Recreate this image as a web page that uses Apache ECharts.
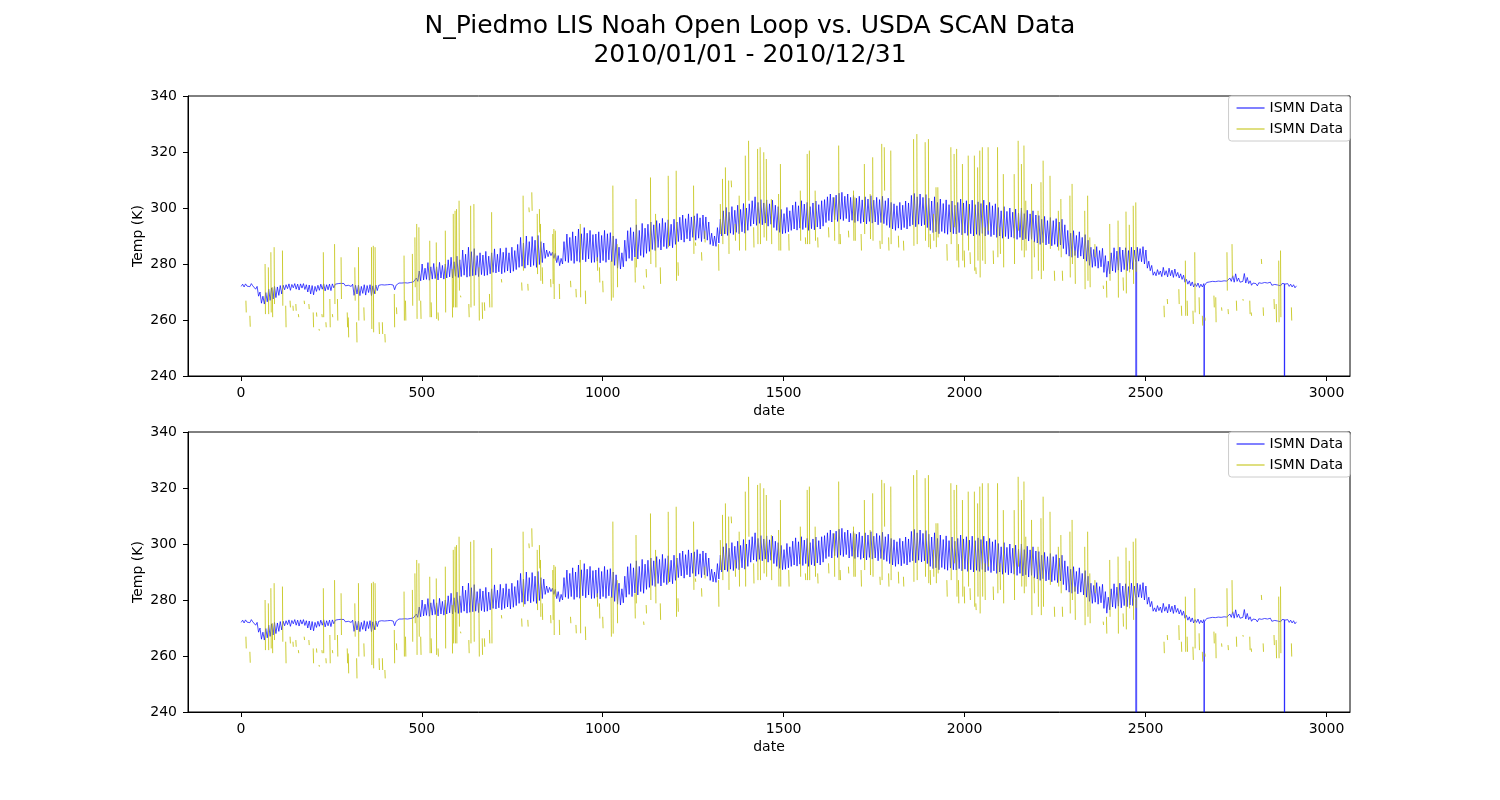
<!DOCTYPE html>
<html><head><meta charset="utf-8">
<script src="https://cdn.jsdelivr.net/npm/echarts@6/dist/echarts.min.js"></script>
<style>html,body{margin:0;padding:0;background:#fff}#c{width:1500px;height:800px}</style>
</head><body><div id="c"></div>
<script>
const titleText = 'N_Piedmo LIS Noah Open Loop vs. USDA SCAN Data\n2010/01/01 - 2010/12/31';
const seriesNames = ['ISMN Data', 'ISMN Data '];
const xTicks = [0, 500, 1000, 1500, 2000, 2500, 3000];
const yTicksMin = 240, yTicksMax = 340, yTickStep = 20;

// Blue series: daily low / high (8 samples per day, index = 8*day + offset)
const blueLo = [
272.0,271.8,272.1,271.9,272.2,271.0,268.5,266.0,265.7,266.5,
267.0,267.5,268.0,268.8,269.3,270.8,271.2,270.6,271.5,271.0,
270.7,271.4,270.9,270.0,269.3,269.0,270.2,270.6,271.0,270.4,
270.8,270.5,271.5,272.3,272.4,272.5,272.2,272.4,272.0,268.8,
269.3,268.7,269.5,268.9,269.8,268.7,269.4,270.5,272.0,272.1,
271.9,272.2,272.0,270.8,272.8,272.9,273.0,273.0,273.1,273.2,
273.5,273.8,274.0,274.3,274.5,274.2,274.6,274.8,274.3,275.0,
274.6,275.0,275.4,275.0,275.6,275.2,275.5,276.0,275.3,275.6,
275.8,276.0,275.5,276.2,275.8,276.0,276.5,277.0,276.8,277.2,
276.5,277.0,277.5,276.8,277.4,278.0,278.8,279.2,278.5,279.6,
279.0,279.5,278.8,279.8,280.5,282.0,282.6,283.0,282.0,280.5,
279.4,280.0,281.0,280.5,281.2,280.2,281.0,280.6,281.5,280.8,
281.8,280.5,280.6,281.0,280.4,281.2,280.6,281.5,280.8,279.5,
278.5,278.2,279.0,281.0,282.0,281.2,282.5,281.8,283.0,282.4,
283.8,284.5,285.2,284.8,285.9,285.0,286.2,285.5,286.5,285.8,
287.0,288.0,288.6,287.8,289.0,288.2,289.5,288.5,289.2,288.0,
289.0,288.5,287.0,286.5,286.3,287.5,290.0,290.7,290.2,291.0,
290.5,291.3,290.8,291.5,291.0,292.0,293.5,294.3,293.8,294.5,
294.0,294.6,293.5,294.2,293.0,292.0,291.3,290.8,291.0,291.5,
292.0,292.5,292.1,292.8,292.3,293.0,292.0,292.6,292.2,293.2,
292.5,293.5,294.8,295.5,295.0,295.8,295.2,296.0,295.5,296.2,
295.0,295.6,294.8,295.3,294.5,295.0,294.3,295.2,294.6,295.0,
294.0,294.8,294.4,293.8,293.0,292.5,292.0,292.8,292.2,293.0,
292.5,293.5,294.0,293.3,294.2,293.6,294.0,293.0,292.0,291.2,
291.5,290.8,291.6,291.0,290.6,291.4,290.8,290.7,291.2,290.4,
291.0,290.2,290.8,290.0,290.6,290.2,290.9,290.0,290.5,289.8,
290.4,289.5,290.0,289.2,289.8,289.0,289.6,289.2,288.8,289.5,
288.6,289.0,288.2,288.8,287.8,287.5,287.0,287.6,286.8,287.2,
286.5,287.0,286.2,286.8,285.5,283.5,282.8,282.4,283.0,282.2,
282.8,281.8,281.0,279.5,278.8,279.2,278.5,279.0,277.0,275.3,
276.5,277.5,277.0,277.8,277.2,278.0,277.6,278.2,278.0,280.5,
281.0,280.8,280.0,278.5,277.6,276.0,275.8,276.2,275.5,276.0,
275.4,275.8,275.2,275.6,275.0,274.5,273.5,272.8,272.2,271.8,
272.0,271.6,271.8,272.5,273.0,273.2,273.3,273.4,273.2,273.5,
273.3,273.6,273.8,273.5,273.8,273.5,273.8,273.2,273.0,272.4,
272.6,272.2,272.7,272.5,272.8,272.6,272.4,272.7,272.5,272.2,
272.6,272.4,272.0,271.8,271.5
];
const blueHi = [
272.8,272.9,272.7,273.0,272.6,272.0,270.0,268.5,269.8,271.0,
271.5,272.0,271.8,272.3,272.4,272.6,272.9,272.7,273.0,272.8,
272.9,273.0,272.6,272.5,272.3,272.0,272.4,272.8,272.9,272.6,
272.8,272.9,272.8,273.0,273.1,273.0,272.9,273.0,272.8,272.4,
272.5,272.0,272.6,272.3,272.6,272.2,272.5,272.4,272.6,272.5,
272.6,272.7,272.5,272.4,273.2,273.2,273.3,273.2,273.4,273.6,
275.0,277.5,280.0,278.5,280.5,279.0,280.2,279.0,280.6,279.5,
280.0,281.5,282.4,280.8,282.8,281.5,285.0,283.5,286.0,284.4,
285.5,283.0,284.0,283.2,284.5,282.8,284.0,285.4,283.5,285.6,
284.2,285.8,284.0,286.0,284.8,287.0,289.5,287.5,290.0,288.0,
289.8,288.5,290.2,288.0,287.5,285.0,284.5,284.2,283.8,283.0,
282.0,288.0,290.7,289.5,291.5,290.0,292.5,290.8,293.0,291.0,
292.0,290.5,290.7,291.5,290.2,292.0,290.8,291.2,290.0,289.0,
286.0,284.0,288.5,291.9,293.0,291.5,294.0,292.0,294.5,292.8,
294.2,295.0,294.0,295.5,294.5,296.3,294.8,295.8,294.2,296.0,
295.0,296.7,297.5,296.2,297.9,296.8,297.2,298.0,296.5,297.5,
296.8,295.0,291.0,290.0,293.0,296.0,299.0,300.2,298.5,300.5,
299.2,301.0,299.5,301.6,300.0,301.5,302.6,304.0,302.0,303.0,
301.8,302.9,301.5,302.8,301.0,300.5,299.5,298.0,300.2,299.0,
301.0,302.2,300.8,302.6,301.4,302.0,300.5,301.8,302.5,301.2,
302.6,303.0,304.0,305.0,303.8,304.6,305.3,305.6,304.2,305.0,
303.8,304.5,303.5,304.2,302.9,304.0,303.2,304.4,302.8,303.8,
303.0,304.2,302.6,303.5,302.0,301.5,300.8,302.0,301.0,302.5,
301.8,304.5,305.2,304.0,305.0,303.8,304.8,303.5,302.5,304.0,
302.0,303.2,301.6,302.9,301.2,302.5,301.0,302.0,303.2,301.8,
302.6,301.4,302.8,301.2,302.2,301.6,302.8,301.0,302.0,300.8,
301.5,300.2,299.0,300.5,298.8,300.0,298.5,299.6,298.2,300.0,
298.0,299.2,297.9,299.0,297.5,297.3,296.0,297.0,295.5,296.6,
295.5,296.2,295.0,296.0,294.0,292.0,291.0,291.9,290.2,291.5,
289.5,290.5,288.5,286.0,285.2,286.2,284.8,285.6,283.0,281.0,
284.0,285.8,284.6,286.0,285.0,285.8,284.8,286.0,285.0,286.0,
285.5,286.2,285.0,281.0,279.5,277.2,278.0,277.5,278.8,277.6,
278.5,277.8,278.2,277.0,276.5,276.0,274.5,274.0,273.6,273.0,
273.2,272.8,273.0,273.4,273.6,273.8,273.7,273.9,273.8,274.0,
273.9,275.0,275.8,276.5,275.0,274.2,276.6,275.2,274.0,273.2,
273.0,273.3,273.1,273.4,273.2,273.5,273.0,273.3,273.2,273.0,
273.3,273.0,272.8,272.6,272.2
];
// Missing-value dropouts in the blue series: [index, value just before, value just after]
const blueDrops = [[2475, 281.0, 281.5], [2662, 272.0, 272.2], [2884, 273.0, 272.8]];
const blueDropVal = -9999;

// Yellow series: short observed pieces [index, first value, next value]; gaps elsewhere
const yellowSpikes = [
[14,266.9,262.7],[25,261.5,257.6],[67,280,262.1],[76,278.8,262.1],[83,284.2,262.7],[87,271.7,261],[92,286,265.7],
[115,284.8,265.1],[124,265.1,257.4],[136,266.9,264.5],[144,265.1,263.3],[152,265.7,263.3],[159,262.1,261],[175,266.9,265.7],
[188,265.7,263.9],[200,262.7,257.4],[209,262.7,261.2],[216,256.8,256.2],[224,262.1,261],[228,284.2,261],[235,259.2,257.4],
[246,267.5,257.4],[253,262.1,261],[259,287.1,265.7],[267,267.5,259.8],[277,282.4,267.5],[294,262.7,257.4],[297,260.9,253.8],
[315,278.8,266.9],[320,259.2,252],[325,286,259.8],[340,264.5,259.8],[361,286,256.8],[366,286.5,255.6],[371,286,269.3],
[382,259.2,255],[391,259.2,255],[398,255,252],[424,269.3,257.4],[430,264.5,262.1],[451,283,259.8],[455,266.9,259.8],
[474,283.6,265.1],[481,289.5,271.7],
[486,294.3,260.4],[492,293.1,266.9],[497,266.9,260.4],[522,288.3,261],[526,266.3,261],[540,287.7,260.4],[545,262.7,259.8],
[565,291.9,262.7],[584,278.2,260.9],[587,297.9,264.5],[592,299,264.5],[596,299.6,264.5],[603,302.6,270.5],[607,268.7,268.1],
[630,265.7,261],[635,300.8,264.5],[644,301.4,265.1],[658,278.8,259.8],[667,266.3,260.4],[673,266.3,263.3],[687,269.3,264.5],
[693,298.5,264.5],[720,274.6,273.4],[776,273.4,270.5],[780,304.4,277.6],[793,272.9,270.5],[796,300.2,298.5],[804,305.6,299],
[819,297.9,276.4],[825,299.6,291.3],[828,294.3,274],[833,278.8,272.9],[856,274.6,271.7],[862,290.7,272.9],[865,292.5,267.5],
[869,291.9,281.2],[880,272.9,267.5],[911,274,271.7],[926,271.1,268.1],[938,294.3,268.1],[952,270.5,265.7],
[985,282.4,277.6],[991,278.8,273.4],[1000,274,269.9],[1023,281.2,266.9],[1028,308,268],[1040,287.1,271.7],[1089,282.4,273.4],
[1092,303.2,278.8],[1113,272.3,271.1],[1120,278.2,275.2],[1132,310.9,280],[1146,297.9,278.8],[1159,278.8,272.9],[1181,311.5,286],
[1203,313.3,274],[1208,280.6,275.8],[1251,308,283.6],[1256,287.7,286.5],[1273,284.2,281.2],[1282,291.9,287.7],[1320,287.1,277.6],
[1325,301.4,290.7],[1331,310.4,287.1],[1339,314.5,290.7],[1348,309.8,283.6],[1355,309.8,307.4],[1366,294.3,288.3],[1377,304.4,284.8],
[1394,318.7,284.8],[1403,324,302.6],[1417,293.1,285.9],[1428,321.1,287.1],[1435,321.7,287.1],[1445,319.9,289.5],[1452,317.5,288.3],
[1466,303.2,287.1],
[1486,305,284.8],[1491,315.7,284.8],[1514,290.7,284.8],[1546,306.2,288.3],[1560,289.5,287.1],[1565,319.3,287.1],[1571,320.5,287.1],
[1587,306.2,288.3],[1594,289.5,285.9],[1624,293.1,289.5],[1640,303.8,288.3],[1652,322.3,287.1],[1656,290.7,287.1],[1679,291.9,289.5],
[1693,306.2,288.3],[1697,303.8,288.3],[1714,290.7,284.8],[1723,315.7,290.7],[1739,305,288.9],[1746,318.1,288.3],[1766,288.3,285.4],
[1771,322.9,287.1],[1778,321.7,306.2],[1790,289.5,284.8],[1796,320.5,287.1],[1817,290.1,285.9],[1831,288.3,284.8],[1859,324.6,286.5],
[1868,326.4,287.1],[1891,323.5,288.3],[1900,324.6,286],[1905,290.7,285.4],[1914,297.9,288.3],[1921,307.4,286],[1926,307.4,289.5],
[1951,287.1,281.2],[1962,321.7,287.1],[1971,319.3,293.1],
[1978,321.1,281.2],[1983,287.1,278.8],[1994,315.7,281.2],[1999,284.8,278.8],[2010,318.7,284.8],[2015,284.2,280],[2027,318.7,277.6],
[2031,278.8,276.4],[2036,314.5,281.2],[2042,320.5,275.2],[2049,321.7,281.2],[2056,293.1,280],[2065,321.7,291.9],[2079,284.8,280],
[2091,321.7,282.4],[2098,293.1,283.6],[2107,312.1,278.8],[2137,312.1,280],[2148,324,291.9],[2157,315.7,284.8],[2164,322.3,282.4],
[2169,302.6,284.8],[2185,308.6,274.6],[2192,288.3,282.4],[2203,299,277.6],[2211,309.2,274.6],[2217,316.9,277.6],[2236,311.5,285.4],
[2248,277.6,274],[2259,299,284.8],[2266,303.2,282.4],[2270,277.6,274],[2291,304.4,275.2],[2297,308.6,280],[2305,284.8,272.9],
[2332,299,271],[2340,304.4,274],[2346,289.5,271.7],[2360,287.1,282.4],[2383,272.3,271.1],[2392,274,268],[2401,294.3,274],
[2424,295.5,268],[2438,275.2,270.5],[2446,298.7,269.5],[2455,294,277],[2466,300.8,272.9],[2473,302,277.2],
[2551,265.1,261],[2560,267.5,265.7],[2592,271,265.7],[2599,265.1,261.5],[2610,281.2,261.5],[2615,266.9,261.5],[2631,263.3,258.6],
[2636,284.2,262.7],[2648,268.1,262.1],[2657,261.5,258],[2664,260.9,259.8],[2689,268.7,264.5],[2694,268.1,259.2],[2710,264.5,263.3],
[2725,284.2,270.5],[2728,263.9,262.1],[2739,287.1,275.2],[2751,266.9,263.3],[2769,267.5,266.9],[2788,266.9,262.1],[2792,262.7,261.5],
[2820,281.8,280],[2825,264.5,261.5],[2855,267.5,263.9],[2861,265.7,259.2],[2868,281.2,259.2],[2873,284.8,261],[2903,264.5,259.8]
];

function buildBlue() {
  const pts = [];
  for (let d = 0; d < blueLo.length; d++) {
    pts.push([8 * d + 1, blueLo[d]]);
    pts.push([8 * d + 5, blueHi[d]]);
  }
  blueDrops.forEach(([i, before, after]) => {
    pts.push([i - 0.5, before]);
    pts.push([i, blueDropVal]);
    pts.push([i + 0.5, after]);
  });
  pts.sort((a, b) => a[0] - b[0]);
  return pts;
}
function buildYellow() {
  const pts = [];
  yellowSpikes.forEach(([i, a, b]) => {
    pts.push([i, a]);
    pts.push([i + 1, b]);
    pts.push([i + 2, null]);
  });
  return pts;
}
const blueData = buildBlue();
const yellowData = buildYellow();

const FONT = 'DejaVu Sans';
const gridTops = [96, 432];
const grids = [], xAxes = [], yAxes = [], series = [], legends = [];
gridTops.forEach((top, g) => {
  grids.push({ left: 188, top: top, width: 1162, height: 280, show: true, borderColor: '#000', borderWidth: 1, backgroundColor: '#fff' });
  xAxes.push({
    type: 'value', gridIndex: g, min: -146, max: 3065,
    splitLine: { show: false },
    axisLine: { show: true, onZero: false, lineStyle: { color: '#000', width: 1 } },
    axisTick: { show: true, customValues: xTicks, length: 5, lineStyle: { color: '#000' } },
    axisLabel: { customValues: xTicks, formatter: v => String(v), color: '#000', fontSize: 14, fontFamily: FONT, margin: 10 },
    name: 'date', nameLocation: 'middle', nameGap: 28, nameMoveOverlap: false,
    nameTextStyle: { color: '#000', fontSize: 14, fontFamily: FONT }
  });
  yAxes.push({
    type: 'value', gridIndex: g, min: yTicksMin, max: yTicksMax, interval: yTickStep,
    splitLine: { show: false },
    axisLine: { show: true, onZero: false, lineStyle: { color: '#000', width: 1 } },
    axisTick: { show: true, length: 5, lineStyle: { color: '#000' } },
    axisLabel: { color: '#000', fontSize: 14, fontFamily: FONT, margin: 11 },
    name: 'Temp (K)', nameLocation: 'middle', nameGap: 43, nameMoveOverlap: false,
    nameTextStyle: { color: '#000', fontSize: 14, fontFamily: FONT }
  });
  series.push({
    name: seriesNames[0], type: 'line', xAxisIndex: g, yAxisIndex: g, data: blueData,
    symbol: 'none', silent: true, clip: true, connectNulls: false,
    lineStyle: { color: '#0000ff', width: 0.7 }, itemStyle: { color: '#0000ff' }
  });
  series.push({
    name: seriesNames[1], type: 'line', xAxisIndex: g, yAxisIndex: g, data: yellowData,
    symbol: 'none', silent: true, clip: true, connectNulls: false,
    lineStyle: { color: '#bfbf00', width: 0.8 }, itemStyle: { color: '#bfbf00' }
  });
  legends.push({
    data: seriesNames, orient: 'vertical', right: 150, top: top,
    icon: 'path://M0,0H28V1H0Z',
    itemWidth: 28, itemHeight: 14, itemGap: 7,
    padding: [5, 7, 5, 8],
    backgroundColor: 'rgba(255,255,255,0.8)', borderColor: '#cccccc', borderWidth: 1, borderRadius: 3,
    textStyle: { color: '#000', fontSize: 14, fontFamily: FONT },
    formatter: n => n.trim(), selectedMode: false
  });
});

const chart = echarts.init(document.getElementById('c'));
chart.setOption({
  animation: false,
  backgroundColor: '#fff',
  title: {
    text: titleText, left: 'center', top: 12, padding: 0,
    textStyle: { fontSize: 25, fontWeight: 'normal', fontFamily: FONT, color: '#000', lineHeight: 29 }
  },
  legend: legends, grid: grids, xAxis: xAxes, yAxis: yAxes, series: series
});
</script></body></html>
